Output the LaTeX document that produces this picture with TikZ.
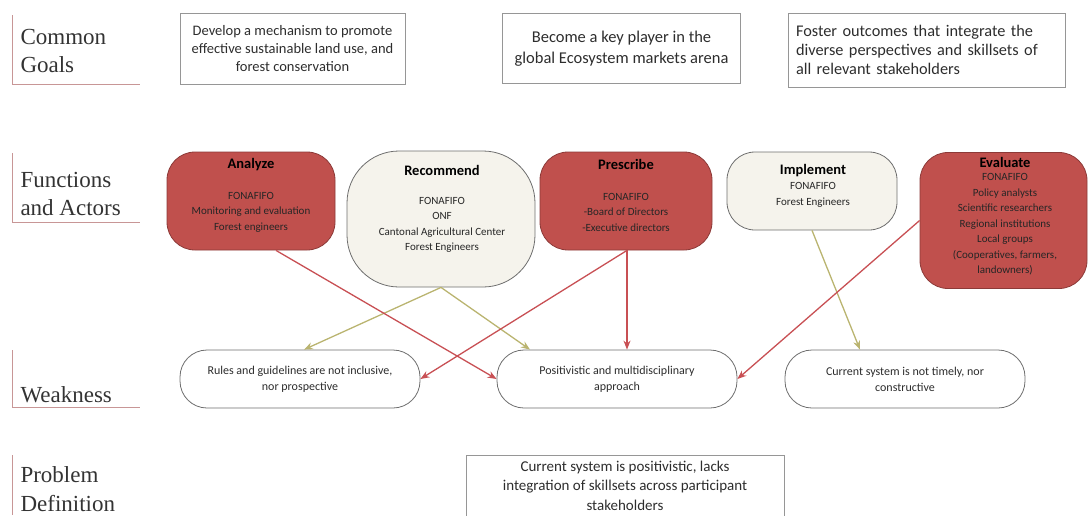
\documentclass[tikz,border=0pt]{standalone}
\usepackage{fontspec}
\setmainfont{Carlito}
\newfontfamily\labelserif{Liberation Serif}
\usetikzlibrary{arrows.meta,calc}
\definecolor{redfill}{RGB}{192,80,77}
\definecolor{redline}{RGB}{140,58,56}
\definecolor{lightfill}{RGB}{245,243,236}
\definecolor{lightline}{RGB}{110,110,110}
\definecolor{goalgray}{RGB}{150,150,150}
\definecolor{arrred}{RGB}{200,80,84}
\definecolor{arrolive}{RGB}{186,180,112}
\definecolor{labline}{RGB}{200,150,150}
\definecolor{txt}{RGB}{45,45,45}
\begin{document}
\begin{tikzpicture}[x=1pt,y=1pt,
  goal/.style={draw=goalgray, line width=0.8pt, text=txt, inner sep=8pt},
  fn/.style={rounded corners=28pt, line width=0.8pt, inner sep=0pt},
  redfn/.style={fn, fill=redfill, draw=redline},
  lightfn/.style={fn, fill=lightfill, draw=lightline},
  weak/.style={draw=lightline, line width=0.8pt, fill=white, rounded corners=27pt,
    minimum width=240pt, minimum height=58pt, inner sep=0pt, align=center,
    font=\fontsize{12}{16}\selectfont, text=txt},
  ftitle/.style={font=\bfseries\fontsize{14.5}{17}\selectfont, text=black},
  fbody/.style={align=center, font=\fontsize{11}{15.5}\selectfont, text=black!85},
  sectlab/.style={anchor=west, align=left, font=\labelserif\fontsize{23}{28.5}\selectfont, text=black!80},
  labrule/.style={draw=labline, line width=0.9pt},
  redarr/.style={draw=arrred, line width=1.3pt, -{Stealth[length=9pt,width=7pt]}},
  olivearr/.style={draw=arrolive, line width=1.3pt, -{Stealth[length=9pt,width=7pt]}}
]
\useasboundingbox (0,0) rectangle (1090,-515);

% section labels
\draw[labrule] (12,-15) -- (12,-84) -- (140,-84);
\node[sectlab] (lab1) at (17,-51) {Common\\Goals};
\draw[labrule] (12,-153) -- (12,-222) -- (140,-222);
\node[sectlab] (lab2) at (17,-194) {Functions\\and Actors};
\draw[labrule] (12,-350) -- (12,-407) -- (140,-407);
\node[sectlab] (lab3) at (17,-395) {Weakness};
\draw[labrule] (12,-455) -- (12,-515);
\node[sectlab] (lab4) at (17,-489) {Problem\\Definition};

% goals
\node[goal, minimum width=225pt, minimum height=71pt, align=center,
  font=\fontsize{14.5}{18}\selectfont] (g1) at (292.5,-48.5)
  {Develop a mechanism to promote\\effective sustainable land use, and\\forest conservation};
\node[goal, minimum width=238pt, minimum height=70pt, align=center,
  font=\fontsize{16.5}{21}\selectfont] (g2) at (621.5,-48.5)
  {Become a key player in the\\global Ecosystem markets arena};
\node[goal, minimum width=277pt, minimum height=74pt, align=left, text width=261pt,
  font=\fontsize{16.3}{19}\selectfont] (g3) at (926.5,-50)
  {Foster outcomes that integrate the\\diverse perspectives and skillsets of\\all relevant stakeholders};

% functions
\node[redfn, minimum width=168pt, minimum height=98pt] (an) at (251,-201) {};
\node[ftitle] (ant) at (251,-165) {Analyze};
\node[fbody] (anb) at (251,-212) {FONAFIFO\\Monitoring and evaluation\\Forest engineers};

\node[lightfn, rounded corners=52pt, minimum width=188pt, minimum height=136pt] (re) at (441,-219) {};
\node[ftitle] (ret) at (442,-170) {Recommend};
\node[fbody] (reb) at (442,-225) {FONAFIFO\\ONF\\Cantonal Agricultural Center\\Forest Engineers};

\node[redfn, minimum width=172pt, minimum height=98pt] (pr) at (626,-201) {};
\node[ftitle] (prt) at (626,-164) {Prescribe};
\node[fbody] (prb) at (626,-212) {FONAFIFO\\-Board of Directors\\-Executive directors};

\node[lightfn, minimum width=170pt, minimum height=78pt] (im) at (812,-191) {};
\node[ftitle] (imt) at (813,-171) {Implement};
\node[fbody] (imb) at (813,-195) {FONAFIFO\\Forest Engineers};

\node[redfn, minimum width=167pt, minimum height=136pt] (ev) at (1003.5,-220.5) {};
\node[ftitle] (evt) at (1005,-162) {Evaluate};
\node[fbody] (evb) at (1005,-224.5) {FONAFIFO\\Policy analysts\\Scientific researchers\\Regional institutions\\Local groups\\(Cooperatives, farmers,\\landowners)};

% weaknesses
\node[weak] (w1) at (300,-379) {Rules and guidelines are not inclusive,\\nor prospective};
\node[weak] (w2) at (617,-379) {Positivistic and multidisciplinary\\approach};
\node[weak] (w3) at (905,-379) {Current system is not timely, nor\\constructive};

% problem definition
\node[goal, minimum width=318pt, minimum height=70pt, anchor=north, inner sep=0pt] (pd) at (625,-455) {};
\node[align=center, font=\fontsize{15}{19.5}\selectfont, text=txt] (pdt) at (625,-485.5)
  {Current system is positivistic, lacks\\integration of skillsets across participant\\stakeholders};

% connectors
\draw[olivearr] (re.south) -- ($(w1.north)+(4,0)$);
\draw[olivearr] (re.south) -- ($(w2.north)+(-87,0)$);
\draw[olivearr] (im.south) -- ($(w3.north)+(-45,0)$);
\draw[redarr] ($(an.south)+(25,0)$) -- (w2.west);
\draw[redarr] ($(pr.south)+(1,0)$) -- (w1.east);
\draw[redarr] ($(pr.south)+(1,0)$) -- ($(w2.north)+(10,0)$);
\draw[redarr] (ev.west) -- (w2.east);
\end{tikzpicture}
\end{document}
